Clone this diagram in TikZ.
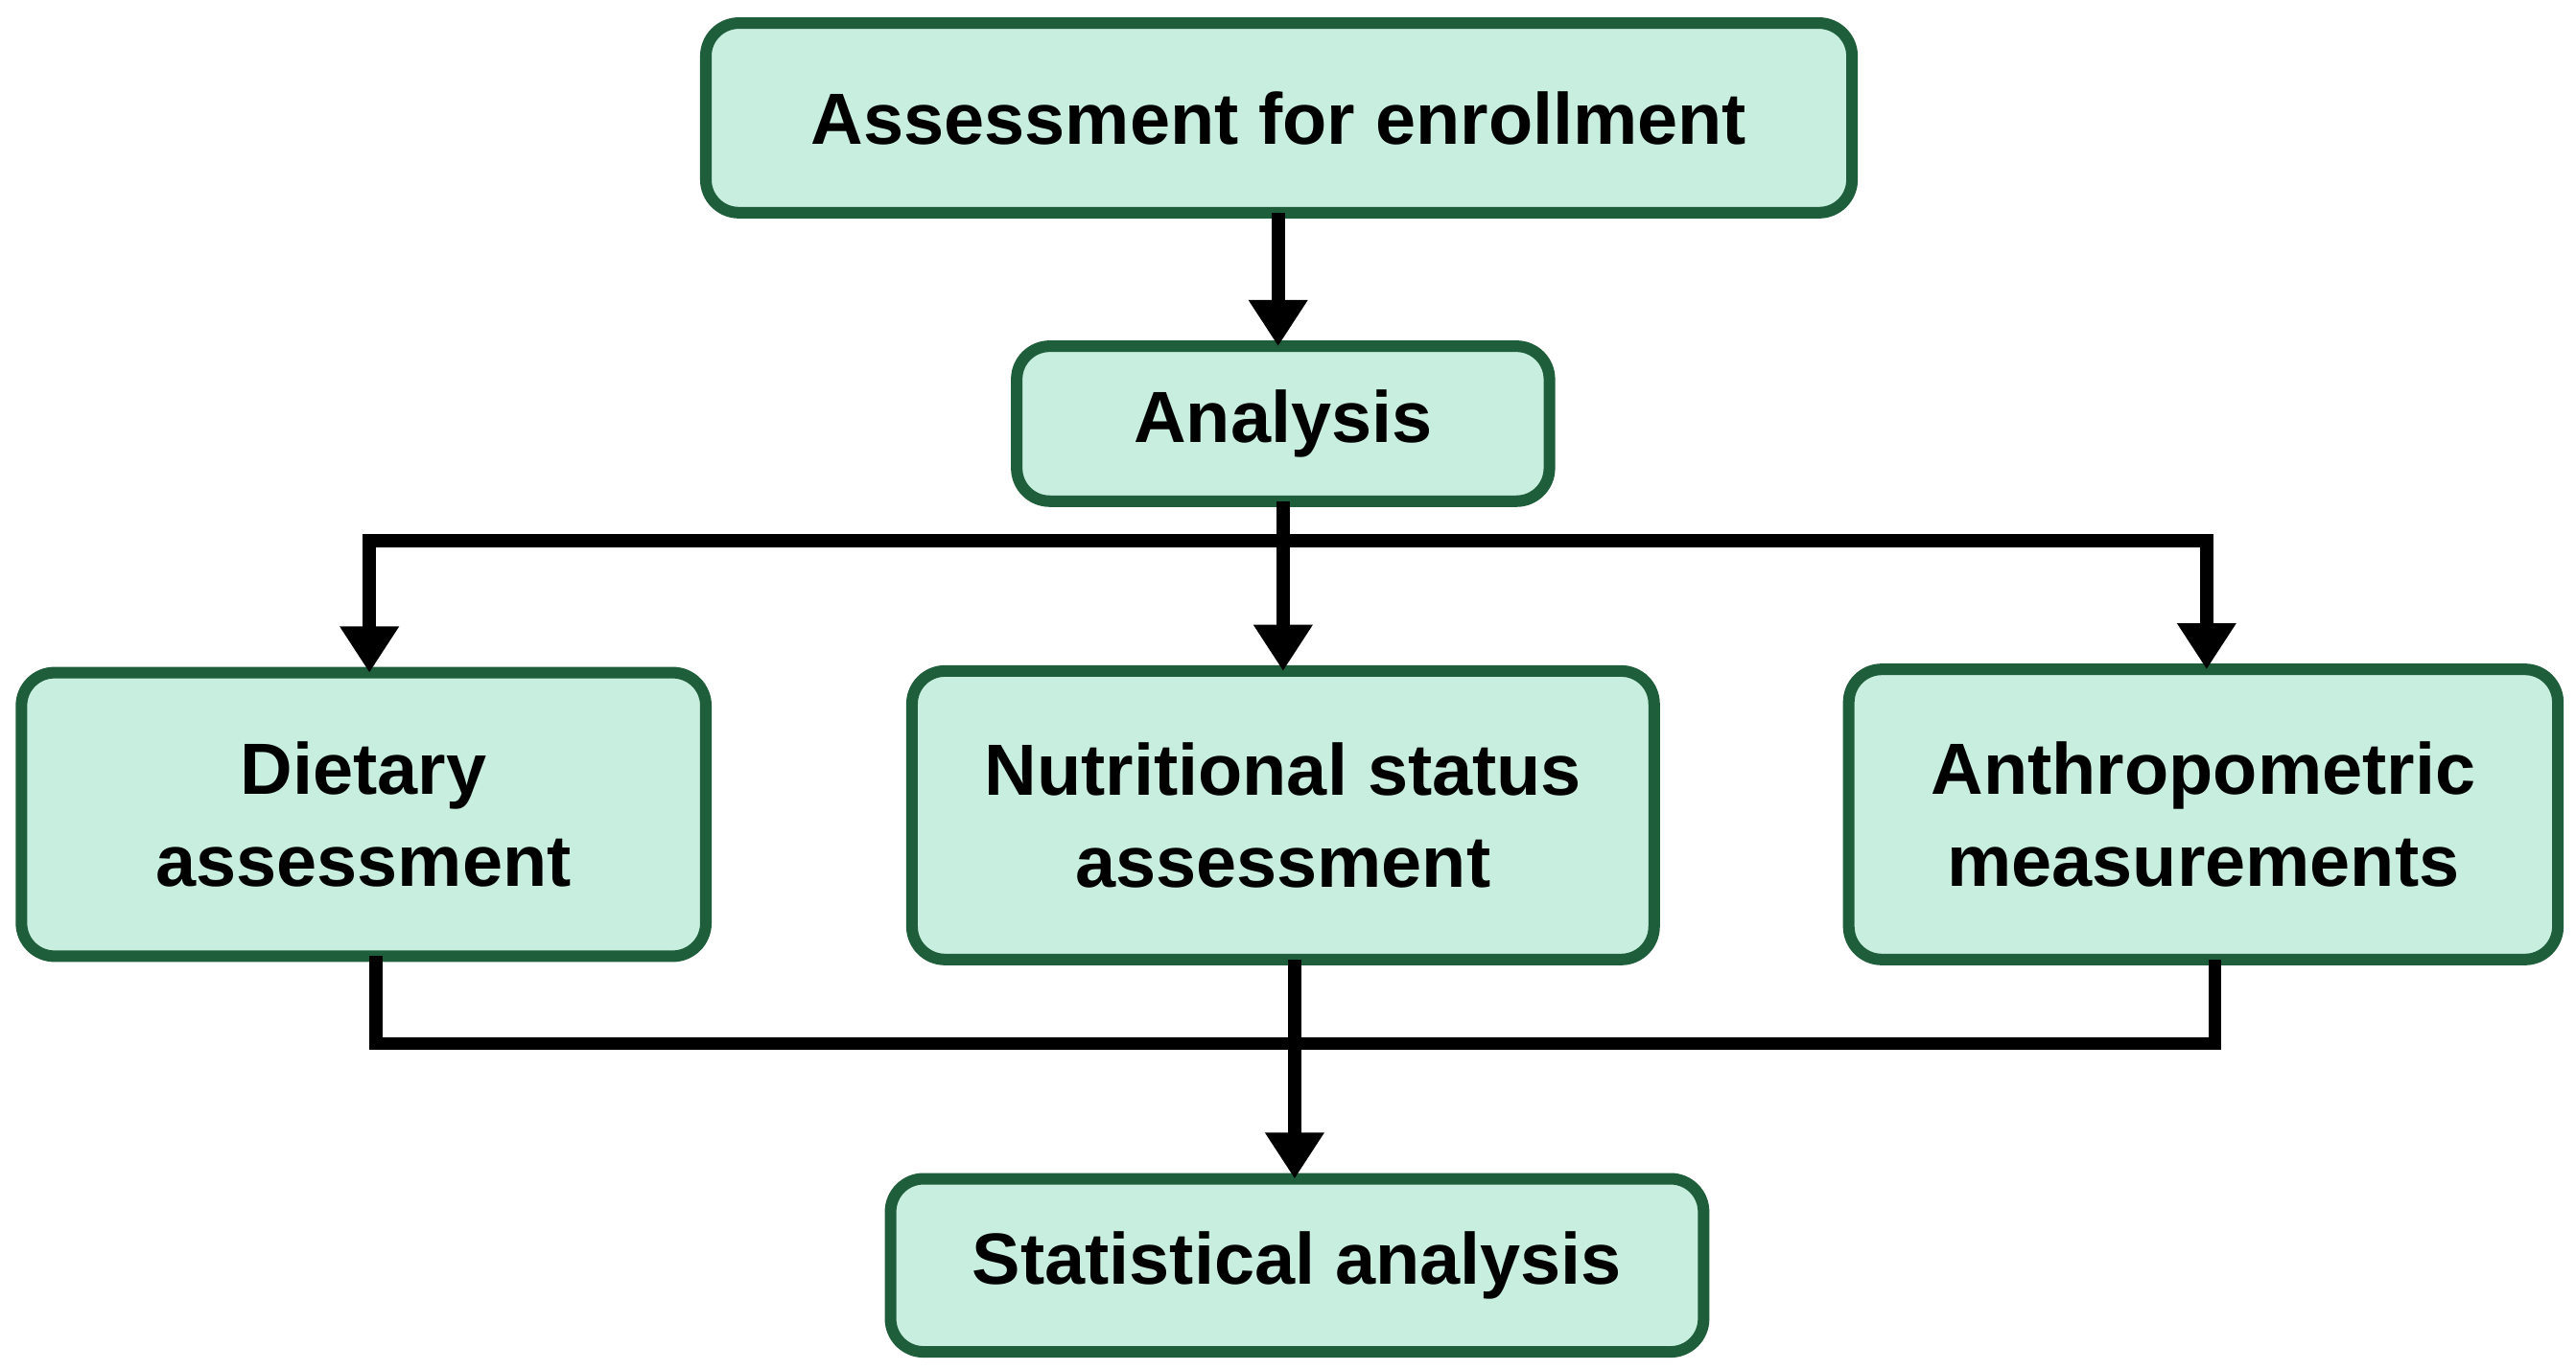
\documentclass[tikz,border=0pt]{standalone}
\usepackage{fontspec}
\setmainfont{Liberation Sans}
\usetikzlibrary{arrows.meta}
\definecolor{boxfill}{HTML}{C8EEE0}
\definecolor{boxline}{HTML}{1E5E3A}
\begin{document}
\begin{tikzpicture}[x=1pt,y=-1pt,
  box/.style={draw=boxline,fill=boxfill,line width=7pt,rounded corners=20pt,font=\fontsize{44}{56}\selectfont\bfseries,align=center},
  conn/.style={line width=8pt,black},
  arr/.style={conn,-{Triangle[length=28pt,width=34pt]}}]
\useasboundingbox (0,0) rectangle (1562,831);
\node[box,minimum width=695pt,minimum height=115pt] (a) at (775.5,71.5) {Assessment for enrollment};
\node[box,minimum width=323pt,minimum height=94pt] (b) at (778,257) {Analysis};
\node[box,minimum width=415pt,minimum height=172pt] (d) at (220.5,494) {Dietary\\assessment};
\node[box,minimum width=450pt,minimum height=175pt] (n) at (778,494.5) {Nutritional status\\assessment};
\node[box,minimum width=430pt,minimum height=176pt] (m) at (1336,494) {Anthropometric\\measurements};
\node[box,minimum width=493pt,minimum height=105pt] (s) at (786.5,767.5) {Statistical analysis};
\coordinate (h) at (778,328);
\coordinate (hl) at (224,328);
\coordinate (hr) at (1338,328);
\coordinate (bl) at (228,633);
\coordinate (br) at (1343,633);
\draw[arr] (775,129) -- (775,210);
\draw[conn] (778,304) -- (h);
\draw[conn,line cap=rect] (hl) -- (hr);
\draw[arr] (hl) -- (224,408);
\draw[arr] (h) -- (778,407);
\draw[arr] (hr) -- (1338,406);
\draw[conn,line join=miter] (228,580) -- (bl) -- (br) -- (1343,582);
\draw[arr] (785,582) -- (785,715);
\end{tikzpicture}
\end{document}
